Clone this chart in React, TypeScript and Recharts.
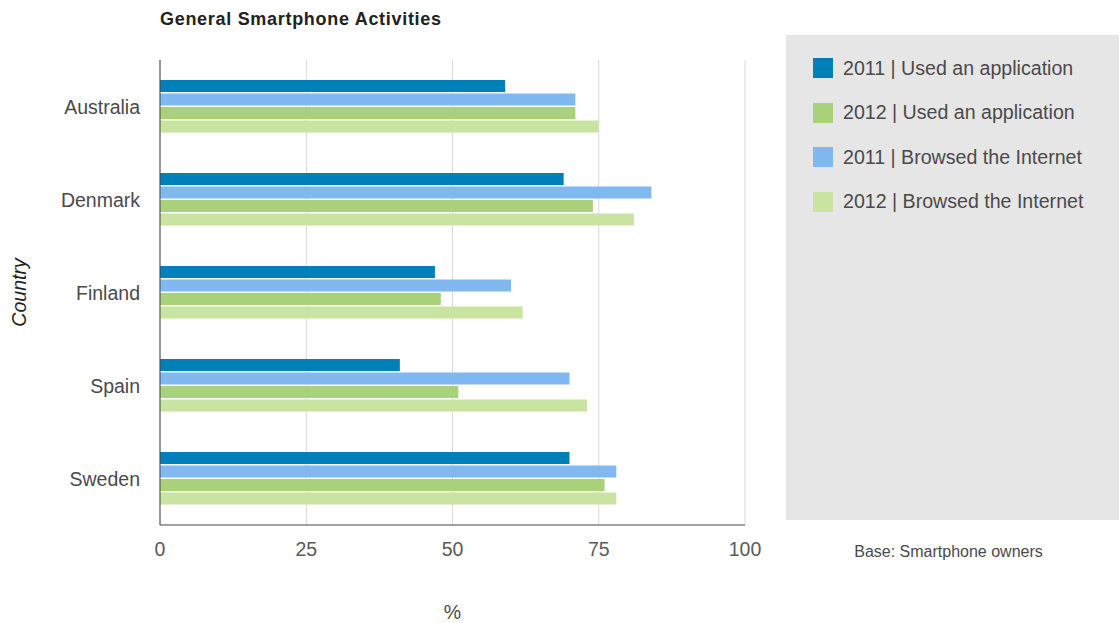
import React from "react";
import { BarChart, Bar, XAxis, YAxis, CartesianGrid, Label } from "recharts";

const countries = ["Australia", "Denmark", "Finland", "Spain", "Sweden"];
const app2011 = [59, 69, 47, 41, 70];
const browse2011 = [71, 84, 60, 70, 78];
const app2012 = [71, 74, 48, 51, 76];
const browse2012 = [75, 81, 62, 73, 78];
const xTicks = [0, 25, 50, 75, 100];

const seriesKeys = ["app2011", "browse2011", "app2012", "browse2012"];
const seriesNames: Record<string, string> = {
  app2011: "2011 | Used an application",
  app2012: "2012 | Used an application",
  browse2011: "2011 | Browsed the Internet",
  browse2012: "2012 | Browsed the Internet",
};
const seriesColors: Record<string, string> = {
  app2011: "#0080b8",
  browse2011: "#80b8f0",
  app2012: "#a9d17a",
  browse2012: "#c8e4a0",
};
const legendOrder = ["app2011", "app2012", "browse2011", "browse2012"];

const data = countries.map((c, i) => ({
  country: c,
  app2011: app2011[i],
  browse2011: browse2011[i],
  app2012: app2012[i],
  browse2012: browse2012[i],
}));

const FONT = '"Liberation Sans", Arial, Helvetica, sans-serif';

export default function App() {
  return (
    <div
      style={{
        position: "absolute",
        left: 0,
        top: 0,
        width: 1119,
        height: 623,
        background: "#fff",
        fontFamily: FONT,
      }}
    >
      <div
        style={{
          position: "absolute",
          left: 160,
          top: 8,
          fontSize: 18,
          fontWeight: "bold",
          letterSpacing: 0.7,
          color: "#222",
          lineHeight: "22px",
        }}
      >
        General Smartphone Activities
      </div>
      <div
        style={{
          position: "absolute",
          left: 786,
          top: 35,
          width: 333,
          height: 485,
          background: "#e6e6e6",
        }}
      >
        {legendOrder.map((k, i) => (
          <div
            key={k}
            style={{
              position: "absolute",
              left: 27,
              top: 33 + i * 44.5 - 10,
              height: 20,
              display: "flex",
              alignItems: "center",
              whiteSpace: "nowrap",
            }}
          >
            <div style={{ width: 20, height: 20, background: seriesColors[k] }} />
            <span style={{ marginLeft: 10, fontSize: 19.6, color: "#4a4a4a" }}>
              {seriesNames[k]}
            </span>
          </div>
        ))}
      </div>
      <div
        style={{
          position: "absolute",
          left: 782,
          width: 333,
          top: 542,
          textAlign: "center",
          fontSize: 16,
          color: "#4a4a4a",
          lineHeight: "20px",
        }}
      >
        Base: Smartphone owners
      </div>
      <div style={{ position: "absolute", left: 0, top: 0 }}>
        <BarChart
          width={1119}
          height={623}
          data={data}
          layout="vertical"
          margin={{ top: 60, right: 374, bottom: 0, left: 0 }}
          barSize={12}
          barGap={1.5}
        >
          <CartesianGrid horizontal={false} stroke="#d8d8d8" />
          <XAxis
            type="number"
            domain={[0, 100]}
            ticks={xTicks}
            height={98}
            tickLine={false}
            tickSize={0}
            tickMargin={17}
            axisLine={{ stroke: "#444" }}
            tick={{ fontSize: 19.5, fill: "#5a5a5a", fontFamily: FONT }}
          >
            <Label
              value="%"
              position="insideBottom"
              offset={4}
              style={{ fontSize: 19.5, fill: "#4a4a4a", fontFamily: FONT }}
            />
          </XAxis>
          <YAxis
            type="category"
            dataKey="country"
            width={160}
            tickLine={false}
            tickSize={0}
            tickMargin={20}
            axisLine={{ stroke: "#444" }}
            tick={{ fontSize: 19.5, fill: "#4a4a4a", fontFamily: FONT, dy: 1 }}
          >
            <Label
              value="Country"
              angle={-90}
              position="insideLeft"
              offset={19}
              style={{
                fontSize: 19.5,
                fill: "#222",
                fontStyle: "italic",
                fontFamily: FONT,
                textAnchor: "middle",
              }}
            />
          </YAxis>
          {seriesKeys.map((k) => (
            <Bar
              key={k}
              dataKey={k}
              name={seriesNames[k]}
              fill={seriesColors[k]}
              isAnimationActive={false}
            />
          ))}
        </BarChart>
      </div>
    </div>
  );
}
